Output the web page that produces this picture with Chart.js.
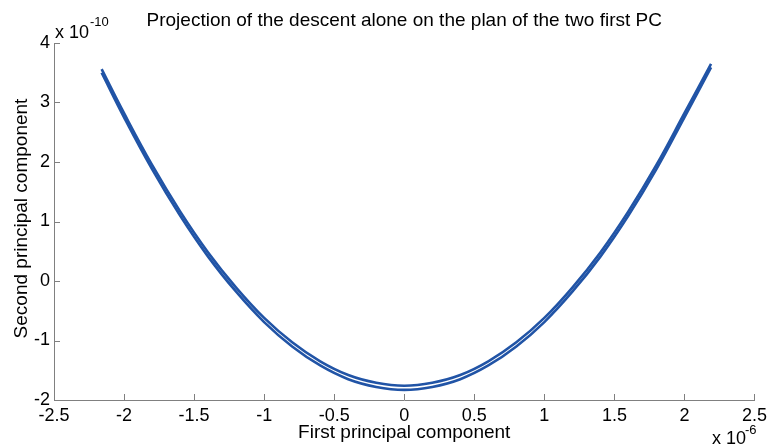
<!DOCTYPE html>
<html lang="en">
<head>
    <meta charset="UTF-8">
    <title>Projection of the descent</title>
    <script src="https://cdn.jsdelivr.net/npm/chart.js"></script>
    <style>
        body { margin: 0; background: #fff; }
        #wrap { width: 772px; height: 447px; }
    </style>
</head>
<body>
    <div id="wrap"><canvas id="pcChart" width="772" height="447"></canvas></div>

    <script>
        // first principal component (x 1e-6)
        const pc1 = [-2.16, -2.0, -1.8, -1.6, -1.4, -1.2, -1.0, -0.8, -0.6, -0.4, -0.2, 0,
                     0.2, 0.4, 0.6, 0.8, 1.0, 1.2, 1.4, 1.6, 1.8, 2.0, 2.19];
        // second principal component (x 1e-10), the two close branches of the descent
        const pc2Inner = [3.56, 2.82, 1.95, 1.17, 0.48, -0.11, -0.62, -1.03, -1.35, -1.58, -1.71, -1.76,
                          -1.71, -1.58, -1.35, -1.03, -0.62, -0.11, 0.48, 1.17, 1.95, 2.82, 3.65];
        const pc2Outer = [3.50, 2.75, 1.88, 1.10, 0.41, -0.18, -0.69, -1.10, -1.42, -1.65, -1.78, -1.83,
                          -1.78, -1.65, -1.42, -1.10, -0.69, -0.18, 0.41, 1.10, 1.88, 2.75, 3.59];

        const titleText = 'Projection of the descent alone on the plan of the two first PC';
        const xTitle = 'First principal component';
        const yTitle = 'Second principal component';

        const lineColor = 'rgb(33, 84, 166)';
        const axisColor = '#808080';
        const font = '"Liberation Sans", Arial, sans-serif';

        function toPoints(ys) {
            return pc1.map((x, i) => ({ x: x, y: ys[i] }));
        }

        // MATLAB style: ticks pointing inward, title and exponent labels
        const decorations = {
            id: 'decorations',
            afterDatasetsDraw(chart) {
                const ctx = chart.ctx;
                const area = chart.chartArea;
                const xs = chart.scales.x;
                const ys = chart.scales.y;
                ctx.save();
                ctx.strokeStyle = axisColor;
                ctx.lineWidth = 1;
                ctx.beginPath();
                xs.ticks.forEach(t => {
                    const px = Math.round(xs.getPixelForValue(t.value)) + 0.5;
                    ctx.moveTo(px, area.bottom);
                    ctx.lineTo(px, area.bottom - 6);
                });
                ys.ticks.forEach(t => {
                    const py = Math.round(ys.getPixelForValue(t.value)) + 0.5;
                    ctx.moveTo(area.left, py);
                    ctx.lineTo(area.left + 6, py);
                });
                ctx.stroke();

                ctx.fillStyle = '#000';
                ctx.textBaseline = 'alphabetic';

                ctx.font = '19px ' + font;
                ctx.textAlign = 'center';
                ctx.fillText(titleText, (area.left + area.right) / 2, 26);
                ctx.fillText(xTitle, (area.left + area.right) / 2, 438);

                ctx.save();
                ctx.translate(27, (area.top + area.bottom) / 2 - 3);
                ctx.rotate(-Math.PI / 2);
                ctx.fillText(yTitle, 0, 0);
                ctx.restore();

                // exponent labels
                ctx.textAlign = 'left';
                ctx.font = '18px ' + font;
                ctx.fillText('x 10', 55, 38);
                ctx.fillText('x 10', 712, 444);
                ctx.font = '13px ' + font;
                ctx.fillText('-10', 90, 26);
                ctx.fillText('-6', 745, 434);
                ctx.restore();
            }
        };

        const ctx = document.getElementById('pcChart').getContext('2d');
        new Chart(ctx, {
            type: 'scatter',
            data: {
                datasets: [
                    {
                        label: 'descent (a)',
                        data: toPoints(pc2Inner),
                        showLine: true,
                        borderColor: lineColor,
                        borderWidth: 2.6,
                        pointRadius: 0,
                        tension: 0.4
                    },
                    {
                        label: 'descent (b)',
                        data: toPoints(pc2Outer),
                        showLine: true,
                        borderColor: lineColor,
                        borderWidth: 2.6,
                        pointRadius: 0,
                        tension: 0.4
                    }
                ]
            },
            options: {
                responsive: false,
                animation: false,
                layout: { padding: { top: 43, right: 15, left: 0, bottom: 0 } },
                plugins: {
                    legend: { display: false },
                    tooltip: { enabled: false }
                },
                scales: {
                    x: {
                        type: 'linear',
                        min: -2.5,
                        max: 2.5,
                        afterFit: s => { s.height = 47; },
                        ticks: {
                            stepSize: 0.5,
                            color: '#000',
                            padding: 5,
                            maxRotation: 0,
                            font: { family: font, size: 18 },
                            callback: v => String(v)
                        },
                        grid: { drawOnChartArea: false, drawTicks: false },
                        border: { color: axisColor, width: 1 }
                    },
                    y: {
                        type: 'linear',
                        min: -2,
                        max: 4,
                        afterFit: s => { s.width = 54; },
                        ticks: {
                            stepSize: 1,
                            color: '#000',
                            padding: 4,
                            font: { family: font, size: 18 },
                            callback: v => String(v)
                        },
                        grid: { drawOnChartArea: false, drawTicks: false },
                        border: { color: axisColor, width: 1 }
                    }
                }
            },
            plugins: [decorations]
        });
    </script>
</body>
</html>
